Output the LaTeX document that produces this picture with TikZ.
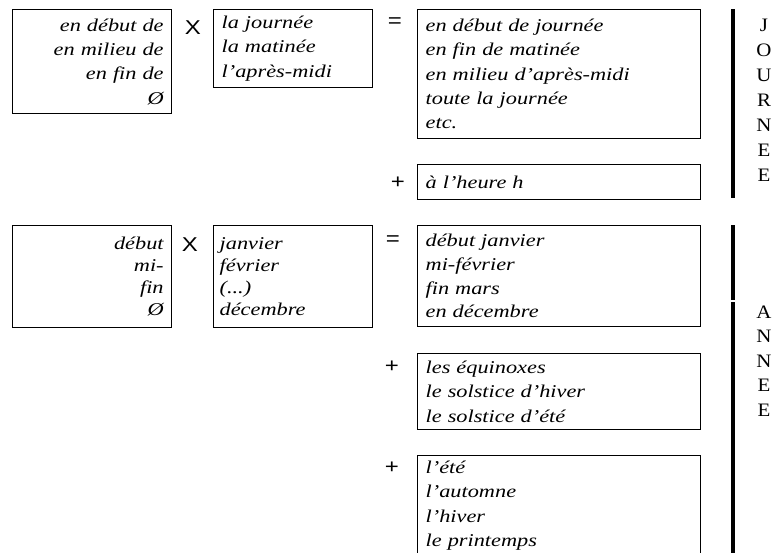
\documentclass[tikz,border=0pt]{standalone}
\usepackage{fontspec}
\setmainfont{Liberation Serif}[FakeStretch=1.24]
\newfontfamily\opfont{Liberation Sans}[FakeStretch=1.2]
\newfontfamily\lettrefont{Liberation Serif}[FakeStretch=1.1]
\tikzstyle{cadre} = [draw, line width=1.3pt, anchor=north west, inner xsep=8pt,
inner ysep=0pt, font=\itshape\fontsize{18}{24.3}\selectfont]
\tikzstyle{operateur} = [font=\opfont\fontsize{20}{20}\selectfont, inner sep=0pt]
\tikzstyle{lettres} = [align=center, inner sep=0pt]
\tikzstyle{accolade} = [line width=3.5pt]

\begin{document}
\begin{tikzpicture}[x=1pt, y=-1pt]
  \useasboundingbox (0,0) rectangle (774,552);
  \clip (0,0) rectangle (774,552);
  % journee
  \node[cadre, align=right, text width=143pt, minimum height=104pt] (debutj) at (12,9)
    {en début de\\ en milieu de\\ en fin de\\ Ø};
  \node[cadre, align=left, text width=143pt, minimum height=78pt] (periodes) at (213,9)
    {la journée\\ la matinée\\ l'après-midi};
  \node[cadre, align=left, text width=267pt, minimum height=129pt] (resjour) at (417,9)
    {en début de journée\\ en fin de matinée\\ en milieu d'après-midi\\ toute la journée\\ etc.};
  \node[cadre, align=left, text width=267pt, minimum height=35pt] (heure) at (417,164)
    {à l'heure h};
  \node[operateur] (foisj) at (193,28) {X};
  \node[operateur] (egalj) at (395,23) {=};
  \node[operateur] (plusj) at (398,183) {+};
  % annee
  \node[cadre, align=right, text width=143pt, minimum height=102pt,
    font=\itshape\fontsize{18}{22}\selectfont] (debuta) at (12,225)
    {début\\ mi-\\ fin\\ Ø};
  \node[cadre, align=left, inner xsep=6pt, text width=147pt, minimum height=102pt,
    font=\itshape\fontsize{18}{22}\selectfont] (mois) at (213,225)
    {janvier\\ février\\ (...)\\ décembre};
  \node[cadre, align=left, text width=267pt, minimum height=101pt,
    font=\itshape\fontsize{18}{23.7}\selectfont] (resan) at (417,225)
    {début janvier\\ mi-février\\ fin mars\\ en décembre};
  \node[cadre, align=left, text width=267pt, minimum height=76pt] (solstices) at (417,353)
    {les équinoxes\\ le solstice d'hiver\\ le solstice d'été};
  \node[cadre, align=left, text width=267pt, minimum height=100pt] (saisons) at (417,455)
    {l'été\\ l'automne\\ l'hiver\\ le printemps};
  \node[operateur] (foisa) at (190,245) {X};
  \node[operateur] (egala) at (393,241) {=};
  \node[operateur] (plusa) at (392,367) {+};
  \node[operateur] (plusb) at (392,468) {+};
  % accolades
  \coordinate (jhaut) at (733,9);
  \coordinate (jbas) at (733,198);
  \coordinate (ahaut) at (733,225);
  \coordinate (acoupe) at (733,300);
  \coordinate (areprise) at (733,302);
  \coordinate (abas) at (733,560);
  \draw[accolade] (jhaut) -- (jbas);
  \draw[accolade] (ahaut) -- (acoupe);
  \draw[accolade] (areprise) -- (abas);
  \node[lettres, font=\lettrefont\fontsize{19}{25}\selectfont] (journee) at (764,100)
    {J\\ O\\ U\\ R\\ N\\ E\\ E};
  \node[lettres, font=\lettrefont\fontsize{19}{24.5}\selectfont] (annee) at (764,361)
    {A\\ N\\ N\\ E\\ E};
\end{tikzpicture}
\end{document}
